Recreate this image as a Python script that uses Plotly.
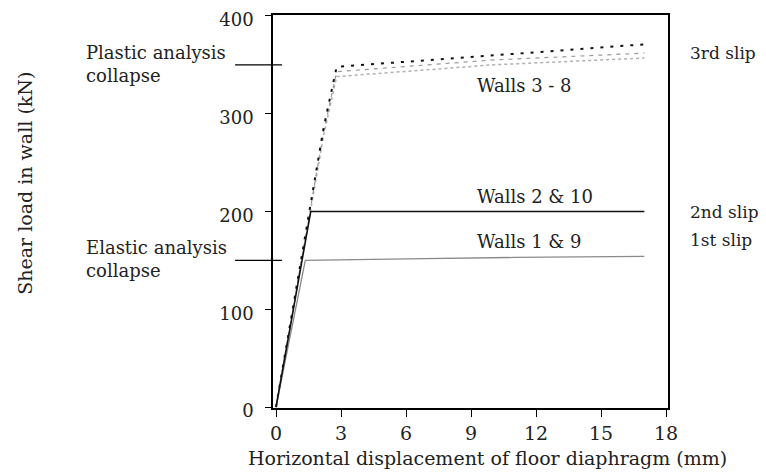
import plotly.graph_objects as go

# ---- data ----
walls_1_9_x = [0, 1.35, 6, 11, 17]
walls_1_9_y = [0, 150, 151.5, 153, 154]

walls_2_10_x = [0, 1.6, 17]
walls_2_10_y = [0, 200, 200]

walls_3_8_a_x = [0, 2.2, 2.8, 10, 17]
walls_3_8_a_y = [0, 286, 348, 360, 371]

walls_3_8_b_x = [0, 2.2, 2.8, 10, 17]
walls_3_8_b_y = [0, 282, 343, 355, 362]

walls_3_8_c_x = [0, 2.2, 2.8, 10, 17]
walls_3_8_c_y = [0, 278, 338, 350, 357]

collapse_levels = [350, 150]
collapse_labels = ["Plastic analysis<br>collapse", "Elastic analysis<br>collapse"]

slip_levels = [362, 199, 171]
slip_labels = ["3rd slip", "2nd slip", "1st slip"]

series_labels = ["Walls 3 - 8", "Walls 2 & 10", "Walls 1 & 9"]
series_label_y = [329, 215, 169]

x_ticks = [0, 3, 6, 9, 12, 15, 18]
y_ticks = [0, 100, 200, 300, 400]

FONT = "DejaVu Serif"
fs = 19
TXT = "#222222"

fig = go.Figure()
fig.add_trace(go.Scatter(x=walls_3_8_c_x, y=walls_3_8_c_y, mode="lines",
                         line=dict(color="#b0b0b0", width=1.5, dash="dot")))
fig.add_trace(go.Scatter(x=walls_3_8_b_x, y=walls_3_8_b_y, mode="lines",
                         line=dict(color="#9a9a9a", width=1.2, dash="4px,5px")))
fig.add_trace(go.Scatter(x=walls_3_8_a_x, y=walls_3_8_a_y, mode="lines",
                         line=dict(color="#111111", width=2, dash="3px,7px")))
fig.add_trace(go.Scatter(x=walls_1_9_x, y=walls_1_9_y, mode="lines",
                         line=dict(color="#8a8a8a", width=1.3)))
fig.add_trace(go.Scatter(x=walls_2_10_x, y=walls_2_10_y, mode="lines",
                         line=dict(color="#111111", width=1.6)))

# collapse marker lines
for lv in collapse_levels:
    fig.add_shape(type="line", xref="paper", yref="y", x0=-0.096, x1=0.023,
                  y0=lv, y1=lv, line=dict(color="black", width=1.3))

for lv, lab in zip(collapse_levels, collapse_labels):
    fig.add_annotation(xref="paper", yref="y", x=-0.478, y=lv, text=lab,
                       showarrow=False, xanchor="left", yanchor="middle",
                       align="left", font=dict(family=FONT, size=fs - 1, color=TXT),
                       yshift=1)

for lv, lab in zip(slip_levels, slip_labels):
    fig.add_annotation(xref="paper", yref="y", x=1.05, y=lv, text=lab,
                       showarrow=False, xanchor="left", yanchor="middle",
                       font=dict(family=FONT, size=17, color=TXT))

for lab, yv in zip(series_labels, series_label_y):
    fig.add_annotation(x=9.18, y=yv, text=lab, showarrow=False, xanchor="left",
                       yanchor="middle", font=dict(family=FONT, size=fs - 1, color=TXT))

# axis titles
fig.add_annotation(xref="paper", yref="paper", x=-0.628, y=0.573,
                   text="Shear load in wall (kN)", textangle=-90, showarrow=False,
                   xanchor="center", yanchor="middle",
                   font=dict(family=FONT, size=fs, color=TXT))
fig.add_annotation(xref="paper", yref="paper", x=0.544, y=-0.127,
                   text="Horizontal displacement of floor diaphragm (mm)",
                   showarrow=False, xanchor="center", yanchor="middle",
                   font=dict(family=FONT, size=fs, color=TXT))

# page body has an 8px margin, so the figure is drawn 8px smaller and offset
fig.update_layout(
    width=758, height=465,
    margin=dict(l=265, r=98, t=7, b=65, autoexpand=False),
    paper_bgcolor="white", plot_bgcolor="white",
    showlegend=False,
    font=dict(family=FONT, size=fs, color=TXT),
)
fig.update_xaxes(range=[-0.14, 18.09], tickvals=x_ticks, ticks="outside", ticklen=7,
                 tickwidth=1.3, tickcolor="black", showline=True, linecolor="black",
                 linewidth=1.5, mirror=True, showgrid=False, zeroline=False,
                 automargin=False, ticklabeloverflow="allow",
                 tickfont=dict(family=FONT, size=fs, color=TXT))
fig.update_yaxes(range=[-1, 401], tickvals=y_ticks, ticks="outside", ticklen=6,
                 tickwidth=1.3, tickcolor="black", showline=True, linecolor="black",
                 linewidth=1.5, mirror=True, showgrid=False, zeroline=False,
                 automargin=False, ticklabelstandoff=8, ticklabeloverflow="allow",
                 ticklabelshift=4,
                 tickfont=dict(family=FONT, size=fs - 1, color=TXT))

fig.write_html("out.html")
